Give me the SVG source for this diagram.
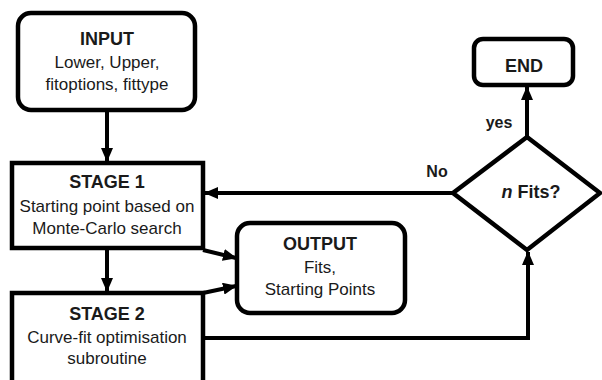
<svg xmlns="http://www.w3.org/2000/svg" width="602" height="380" viewBox="0 0 602 380">
  <style>
    .box { fill: #ffffff; stroke: #000000; stroke-width: 4.5; }
    .line { fill: none; stroke: #000000; stroke-width: 4; }
    .title { font-family: "Liberation Sans", Arial, sans-serif; font-weight: bold; font-size: 18px; fill: #1a1a1a; text-anchor: middle; }
    .body { font-family: "Liberation Sans", Arial, sans-serif; font-size: 17px; fill: #1a1a1a; text-anchor: middle; }
    .label { font-family: "Liberation Sans", Arial, sans-serif; font-weight: bold; font-size: 16px; fill: #1a1a1a; text-anchor: middle; }
  </style>
  <defs>
    <marker id="arrow" viewBox="0 0 14 12" refX="13" refY="6" markerWidth="14" markerHeight="12" markerUnits="userSpaceOnUse" orient="auto">
      <path d="M0,0 L14,6 L0,12 Z" fill="#000000"/>
    </marker>
  </defs>
  <rect width="602" height="380" fill="#ffffff"/>

  <g id="connectors">
    <line class="line" x1="107" y1="110" x2="107" y2="161" marker-end="url(#arrow)"/>
    <line class="line" x1="107" y1="248" x2="107" y2="291" marker-end="url(#arrow)"/>
    <line class="line" x1="453" y1="193" x2="205" y2="193" marker-end="url(#arrow)"/>
    <line class="line" x1="203" y1="250" x2="236" y2="258" marker-end="url(#arrow)"/>
    <line class="line" x1="203" y1="293" x2="236" y2="286" marker-end="url(#arrow)"/>
    <path class="line" d="M203,338 H528 V252" marker-end="url(#arrow)"/>
    <line class="line" x1="527" y1="137" x2="527" y2="87" marker-end="url(#arrow)"/>
    <text class="label" x="499" y="128">yes</text>
    <text class="label" x="437" y="177">No</text>
  </g>

  <g id="input">
    <rect class="box" x="18" y="13" width="177" height="97" rx="13"/>
    <text class="title" x="107" y="45">INPUT</text>
    <text class="body" x="107" y="68">Lower, Upper,</text>
    <text class="body" x="107" y="90">fitoptions, fittype</text>
  </g>

  <g id="stage1">
    <rect class="box" x="12" y="163" width="191" height="85"/>
    <text class="title" x="107" y="188">STAGE 1</text>
    <text class="body" x="107" y="212">Starting point based on</text>
    <text class="body" x="107" y="234">Monte-Carlo search</text>
  </g>

  <g id="stage2">
    <rect class="box" x="12" y="293" width="191" height="100"/>
    <text class="title" x="107" y="320">STAGE 2</text>
    <text class="body" x="107" y="343">Curve-fit optimisation</text>
    <text class="body" x="107" y="364">subroutine</text>
  </g>

  <g id="output">
    <rect class="box" x="237" y="223" width="168" height="90" rx="13"/>
    <text class="title" x="320" y="250">OUTPUT</text>
    <text class="body" x="320" y="273">Fits,</text>
    <text class="body" x="320" y="295">Starting Points</text>
  </g>

  <g id="decision">
    <polygon class="box" points="527,137 600,193 527,250 453,193"/>
    <text class="title" x="531" y="198"><tspan font-style="italic">n</tspan> Fits?</text>
  </g>

  <g id="end">
    <rect class="box" x="474" y="39" width="99" height="46" rx="9"/>
    <text class="title" x="524" y="72">END</text>
  </g>
</svg>
